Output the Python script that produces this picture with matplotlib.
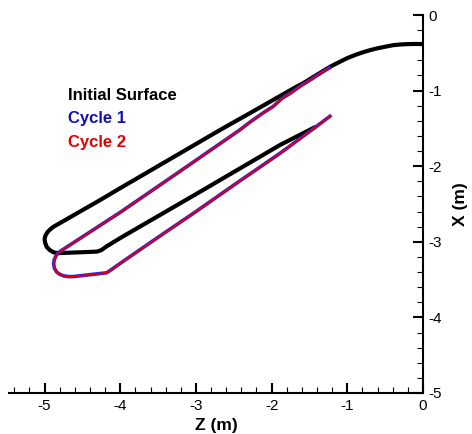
import matplotlib.pyplot as plt
import numpy as np

plt.rcParams['font.family'] = ['Liberation Sans', 'DejaVu Sans']

# initial surface (Z, X) in m
init_z = [0.0, -0.1, -0.2, -0.3, -0.4, -0.5, -0.6, -0.7, -0.8, -0.9, -1.0, -1.1, -1.2, -1.27,
          -1.58, -1.71, -2.29, -2.68, -4.0, -4.27, -4.88,
          -4.92, -4.96, -4.99, -5.0, -4.99, -4.97, -4.93, -4.88, -4.82,
          -4.31, -4.25, -4.18, -4.0, -3.0, -1.89, -1.42]
init_x = [-0.384, -0.383, -0.385, -0.39, -0.40, -0.42, -0.44, -0.465, -0.495, -0.53, -0.57, -0.62, -0.67, -0.71,
          -0.90, -0.97, -1.30, -1.52, -2.29, -2.45, -2.80,
          -2.83, -2.87, -2.92, -2.97, -3.02, -3.07, -3.11, -3.14, -3.15,
          -3.13, -3.11, -3.06, -2.95, -2.37, -1.72, -1.48]

# cycle 1
c1_z = [-1.24, -1.40, -1.49, -1.62, -1.76, -1.86, -1.98, -2.12, -2.29, -2.42, -3.2, -4.0,
        -4.80, -4.84, -4.87, -4.88, -4.87, -4.84, -4.80, -4.75, -4.69, -4.62,
        -4.18, -4.12, -3.95, -3.5, -3.0, -2.5, -1.89, -1.55, -1.23]
c1_x = [-0.70, -0.80, -0.86, -0.94, -1.04, -1.10, -1.21, -1.30, -1.42, -1.52, -2.06, -2.61,
        -3.13, -3.17, -3.23, -3.29, -3.35, -3.40, -3.43, -3.45, -3.46, -3.46,
        -3.41, -3.37, -3.25, -2.94, -2.60, -2.25, -1.83, -1.58, -1.34]

# cycle 2
c2_z = [-1.24, -1.40, -1.49, -1.62, -1.76, -1.86, -1.98, -2.12, -2.29, -2.42, -3.2, -4.0,
        -4.80, -4.84, -4.87, -4.88, -4.87, -4.84, -4.80, -4.75, -4.69, -4.62,
        -4.18, -4.12, -3.95, -3.5, -3.0, -2.5, -1.89, -1.55, -1.23]
c2_x = [-0.70, -0.80, -0.86, -0.94, -1.04, -1.10, -1.21, -1.30, -1.42, -1.52, -2.06, -2.61,
        -3.13, -3.17, -3.23, -3.29, -3.35, -3.40, -3.43, -3.45, -3.46, -3.46,
        -3.41, -3.37, -3.25, -2.94, -2.60, -2.25, -1.83, -1.58, -1.34]

fig = plt.figure(figsize=(4.72, 4.34), dpi=100)
ax = fig.add_axes([9/472, 41/434, 414/472, 378/434])

ax.plot(init_z, init_x, color='black', lw=3.0, solid_capstyle='butt', solid_joinstyle='round')
ax.plot(c1_z, c1_x, color='#2020ff', lw=2.6, solid_joinstyle='round')
ax.plot(c2_z, c2_x, color='#e00000', lw=1.4, solid_joinstyle='round')

ax.set_xlim(-5.47, 0)
ax.set_ylim(-5, 0)

for s in ['top', 'left']:
    ax.spines[s].set_visible(False)
for s in ['bottom', 'right']:
    ax.spines[s].set_linewidth(1.5)

ax.yaxis.tick_right()
ax.yaxis.set_label_position('right')
ax.set_xticks(np.arange(-5, 0.1, 1))
ax.set_xticks(np.arange(-5.4, 0.01, 0.2), minor=True)
ax.set_yticks(np.arange(-5, 0.1, 1))
ax.set_yticks(np.arange(-5, 0.01, 0.2), minor=True)
ax.set_xticklabels(['-5', '-4', '-3', '-2', '-1', '0'])
ax.set_yticklabels(['-5', '-4', '-3', '-2', '-1', '0'])
ax.tick_params(which='major', direction='in', length=7, width=1.5, labelsize=11, pad=4)
ax.tick_params(which='minor', direction='in', length=4, width=0.8)

ax.set_xlabel('Z (m)', fontsize=12.5, fontweight='bold', labelpad=4)
ax.set_ylabel('X (m)', fontsize=12.5, fontweight='bold', labelpad=8)

ax.text(-4.69, -1.06, 'Initial Surface', fontsize=12, fontweight='bold', color='black', va='center')
ax.text(-4.69, -1.37, 'Cycle 1', fontsize=12, fontweight='bold', color='#1010b0', va='center')
ax.text(-4.69, -1.68, 'Cycle 2', fontsize=12, fontweight='bold', color='#e00000', va='center')

fig.savefig('out.png', dpi=100)
